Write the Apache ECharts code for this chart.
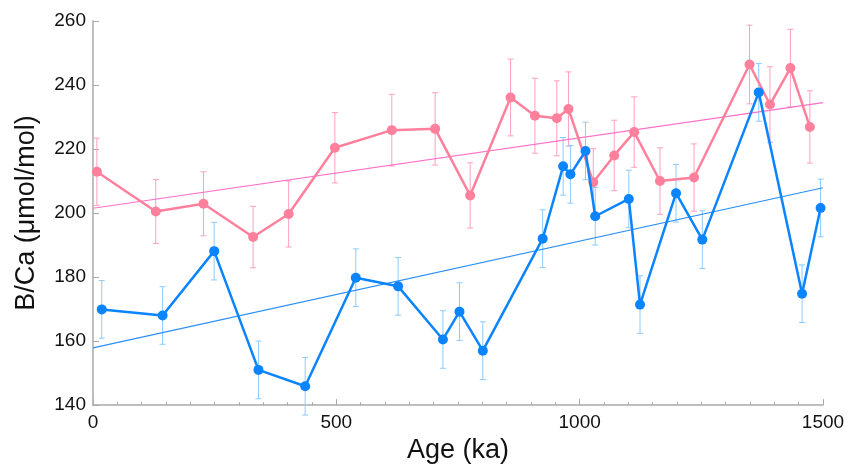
<!DOCTYPE html>
<html>
<head>
<meta charset="utf-8">
<script src="https://cdn.jsdelivr.net/npm/echarts@6/dist/echarts.min.js"></script>
<style>
html,body{margin:0;padding:0;background:#fff;}
#chart{width:851px;height:469px;}
</style>
</head>
<body>
<div id="chart"></div>
<script>
// Pink series
var pinkAge = [8, 129, 227, 329, 402, 497, 614, 703, 775, 858, 908, 953, 977, 1028, 1071, 1112, 1165, 1235, 1349, 1391, 1433, 1473];
var pinkVal = [212.9, 200.5, 202.9, 192.5, 199.7, 220.4, 225.9, 226.3, 205.5, 236.1, 230.4, 229.6, 232.5, 209.6, 218, 225.3, 210, 211.1, 246.4, 233.9, 245.3, 226.9];
var pinkErr = [10.5, 10, 10, 9.6, 10.3, 11, 11.2, 11.3, 10.2, 12, 11.7, 11.7, 11.6, 10.5, 11, 11, 10.4, 10.5, 12.3, 11.8, 12.1, 11.3];
// Blue series
var blueAge = [18, 143, 249, 340, 436, 540, 627, 719, 753, 801, 924, 966, 981, 1012, 1032, 1101, 1124, 1198, 1252, 1368, 1457, 1495];
var blueVal = [169.9, 168, 188.1, 151, 145.9, 179.8, 177.1, 160.5, 169.2, 157, 192, 214.6, 212.1, 219.4, 199, 204.4, 171.4, 206.2, 191.7, 237.7, 174.8, 201.6];
var blueErr = [9, 9, 9, 9, 9, 9, 9, 9, 9, 9, 9, 9, 9, 9, 9, 9, 9, 9, 9, 9, 9, 9];
// Trend lines (endpoints)
var trendAge = [0, 1500];
var pinkTrend = [201.5, 234.5];
var blueTrend = [157.9, 207.9];
// Axis ticks
var yTicks = [140, 160, 180, 200, 220, 240, 260];
var xTicks = [0, 500, 1000, 1500];

function pairs(a, b) { return a.map(function (x, i) { return [x, b[i]]; }); }
function errData(a, v, e) { return a.map(function (x, i) { return [x, v[i] - e[i], v[i] + e[i]]; }); }

function errRender(color) {
  return function (params, api) {
    var x = api.value(0);
    var lo = api.coord([x, api.value(1)]);
    var hi = api.coord([x, api.value(2)]);
    var cw = 3;
    var st = { stroke: color, lineWidth: 1 };
    return {
      type: 'group',
      children: [
        { type: 'line', shape: { x1: lo[0], y1: lo[1], x2: hi[0], y2: hi[1] }, style: st },
        { type: 'line', shape: { x1: lo[0] - cw, y1: lo[1], x2: lo[0] + cw, y2: lo[1] }, style: st },
        { type: 'line', shape: { x1: hi[0] - cw, y1: hi[1], x2: hi[0] + cw, y2: hi[1] }, style: st }
      ]
    };
  };
}

var font = 'Liberation Sans, Arial, Helvetica, sans-serif';
var chart = echarts.init(document.getElementById('chart'), null, { renderer: 'canvas' });
chart.setOption({
  animation: false,
  backgroundColor: '#ffffff',
  grid: { left: 93, right: 28, top: 21, bottom: 60 },
  xAxis: {
    type: 'value', min: 0, max: 1500, interval: 500,
    name: 'Age (ka)', nameLocation: 'middle', nameGap: 30,
    nameTextStyle: { fontFamily: font, fontSize: 27, color: '#111' },
    axisLine: { lineStyle: { color: '#aaaaaa', width: 1.5 } },
    axisTick: { inside: true, length: 6, lineStyle: { color: '#aaaaaa' } },
    minorTick: { show: true, splitNumber: 10, length: 3, lineStyle: { color: '#aaaaaa' } },
    axisLabel: { fontFamily: font, fontSize: 19, color: '#111', margin: 8,
      formatter: function (v) { return xTicks.indexOf(v) >= 0 ? String(v) : ''; } },
    splitLine: { show: false }
  },
  yAxis: {
    type: 'value', min: 140, max: 260, interval: 20,
    name: 'B/Ca (μmol/mol)', nameLocation: 'middle', nameGap: 53,
    nameTextStyle: { fontFamily: font, fontSize: 27, color: '#111' },
    axisLine: { show: true, lineStyle: { color: '#aaaaaa', width: 1.5 } },
    axisTick: { show: true, inside: true, length: 6, lineStyle: { color: '#aaaaaa' } },
    axisLabel: { fontFamily: font, fontSize: 19, color: '#111', margin: 7,
      formatter: function (v) { return yTicks.indexOf(v) >= 0 ? String(v) : ''; } },
    splitLine: { show: false }
  },
  series: [
    { type: 'custom', name: 'pinkErr', renderItem: errRender('#ff9fc2'), data: errData(pinkAge, pinkVal, pinkErr), z: 1, silent: true },
    { type: 'custom', name: 'blueErr', renderItem: errRender('#8ccbff'), data: errData(blueAge, blueVal, blueErr), z: 1, silent: true },
    { type: 'line', name: 'pinkTrend', data: pairs(trendAge, pinkTrend), showSymbol: false, lineStyle: { color: '#ff6ecb', width: 1.2 }, z: 2 },
    { type: 'line', name: 'blueTrend', data: pairs(trendAge, blueTrend), showSymbol: false, lineStyle: { color: '#2b8ff5', width: 1.2 }, z: 2 },
    { type: 'line', name: 'pink', data: pairs(pinkAge, pinkVal), symbol: 'circle', symbolSize: 10,
      lineStyle: { color: '#ff809c', width: 2.5 }, itemStyle: { color: '#ff809c' }, z: 3 },
    { type: 'line', name: 'blue', data: pairs(blueAge, blueVal), symbol: 'circle', symbolSize: 10,
      lineStyle: { color: '#0a84ff', width: 2.5 }, itemStyle: { color: '#0a84ff' }, z: 4 }
  ]
});
</script>
</body>
</html>
